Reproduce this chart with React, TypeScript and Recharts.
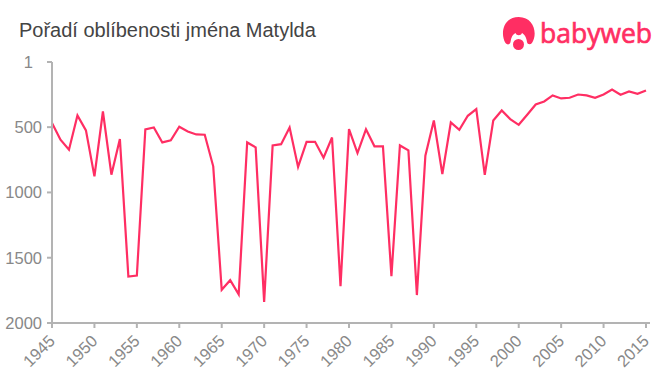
import { Line, LineChart, XAxis, YAxis } from "recharts";

const years = [
  1945, 1946, 1947, 1948, 1949, 1950, 1951, 1952, 1953, 1954, 1955, 1956, 1957, 1958, 1959, 1960, 1961, 1962,
  1963, 1964, 1965, 1966, 1967, 1968, 1969, 1970, 1971, 1972, 1973, 1974, 1975, 1976, 1977, 1978, 1979, 1980,
  1981, 1982, 1983, 1984, 1985, 1986, 1987, 1988, 1989, 1990, 1991, 1992, 1993, 1994, 1995, 1996, 1997, 1998,
  1999, 2000, 2001, 2002, 2003, 2004, 2005, 2006, 2007, 2008, 2009, 2010, 2011, 2012, 2013, 2014, 2015,
];
const ranks = [
  469, 596, 673, 410, 525, 877, 380, 864, 591, 1644, 1636, 517, 502, 617, 601, 497, 533, 556,
  558, 800, 1746, 1672, 1781, 617, 655, 1838, 640, 630, 502, 805, 612, 612, 734, 579, 1718, 515,
  698, 517, 647, 647, 1641, 640, 678, 1786, 719, 449, 860, 464, 520, 413, 362, 865, 449, 372,
  438, 482, 405, 326, 303, 257, 280, 275, 250, 257, 275, 250, 212, 252, 227, 245, 219,
];
const xTicks = [1945, 1950, 1955, 1960, 1965, 1970, 1975, 1980, 1985, 1990, 1995, 2000, 2005, 2010, 2015];
const yTicks = [1, 500, 1000, 1500, 2000];

const data = years.map((year, i) => ({ year, rank: ranks[i] }));

const FONT = "'Liberation Sans', Arial, sans-serif";
const PINK = "#ff2e63";
const GREY = "#888888";
const AXIS = "#b3b3b3";

function XTick({ x, y, payload }: any) {
  return (
    <text
      x={x + 4}
      y={y + 12}
      transform={`rotate(-45 ${x + 4} ${y + 12})`}
      textAnchor="end"
      fontFamily={FONT}
      fontSize={16.5}
      fill={GREY}
    >
      {payload.value}
    </text>
  );
}

function YTick({ x, y, payload }: any) {
  // the "1" sits further left than the others in the original
  const shift = payload.value === 1 ? 9 : 0;
  return (
    <text x={x - 3 - shift} y={y + 6} textAnchor="end" fontFamily={FONT} fontSize={16.5} fill={GREY}>
      {payload.value}
    </text>
  );
}

function Logo() {
  return (
    <svg width={165} height={50} style={{ position: "absolute", left: 495, top: 10 }}>
      <path
        d="M 10.5 33 C 5 24 8 7 23.7 7 C 39 7 43 24 37 33 C 35 35 32.5 34.5 32 32 C 31.5 27 29 24 27 23 C 26 26 21.5 26 20.5 23 C 18 24 16 27 15.5 32 C 15 35 12 35 10.5 33 Z"
        fill={PINK}
      />
      <circle cx={23.5} cy={34.5} r={5.5} fill={PINK} />
      <text
        x={45}
        y={33}
        fontFamily="'Open Sans', sans-serif"
        fontSize={27}
        fontWeight={400}
        fill={PINK}
        stroke={PINK}
        strokeWidth={0.7}
        textLength={112}
        lengthAdjust="spacingAndGlyphs"
      >
        babyweb
      </text>
    </svg>
  );
}

export default function App() {
  return (
    <div style={{ position: "absolute", left: 0, top: 0, width: 660, height: 375, background: "#fff" }}>
      <div style={{ position: "absolute", left: 19, top: 19, fontFamily: FONT, fontSize: 20, lineHeight: "23px", color: "#444" }}>
        Pořadí oblíbenosti jména Matylda
      </div>
      <Logo />
      {/* axis line runs a little past the last tick */}
      <div style={{ position: "absolute", left: 646, top: 322, width: 4, height: 2, background: AXIS }} />
      <LineChart width={660} height={375} data={data} margin={{ top: 62, right: 14, left: 0, bottom: 0 }}>
        <XAxis
          dataKey="year"
          type="number"
          domain={[1945, 2015]}
          ticks={xTicks}
          interval={0}
          height={52}
          tick={<XTick />}
          tickSize={5}
          stroke={AXIS}
          strokeWidth={2}
        />
        <YAxis
          reversed
          type="number"
          domain={[1, 2000]}
          ticks={yTicks}
          interval={0}
          width={52}
          tick={<YTick />}
          tickSize={5}
          stroke={AXIS}
          strokeWidth={2}
        />
        <Line dataKey="rank" type="linear" stroke={PINK} strokeWidth={2.2} dot={false} isAnimationActive={false} />
      </LineChart>
    </div>
  );
}
